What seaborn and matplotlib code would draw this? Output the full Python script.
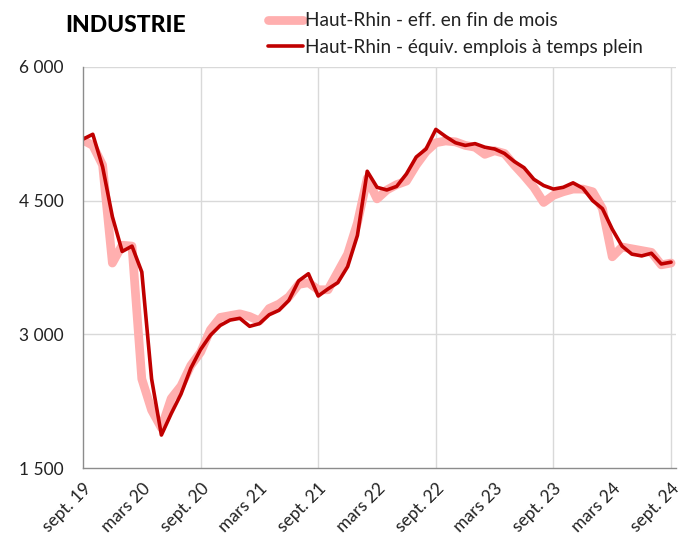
import matplotlib.pyplot as plt
import seaborn as sns
import pandas as pd

# monthly values, sept. 2019 -> sept. 2024 (61 months)
months = pd.period_range("2019-09", "2024-09", freq="M")

eff_fin_mois = [
    5180, 5120, 4900, 3800, 4000, 3990, 2500, 2150, 1950, 2280,
    2420, 2650, 2800, 3050, 3190, 3210, 3230, 3200, 3150, 3290,
    3340, 3420, 3560, 3580, 3500, 3500, 3700, 3900, 4250, 4750,
    4520, 4620, 4680, 4720, 4900, 5050, 5150, 5170, 5160, 5120,
    5100, 5020, 5060, 5030, 4900, 4780, 4650, 4480, 4560, 4600,
    4630, 4630, 4600, 4410, 3870, 3980, 3960, 3940, 3920, 3780,
    3800,
]

equiv_etp = [
    5190, 5245, 4880, 4320, 3930, 3990, 3700, 2500, 1870, 2110,
    2330, 2620, 2830, 2990, 3100, 3160, 3180, 3090, 3120, 3220,
    3270, 3380, 3600, 3680, 3430, 3510, 3580, 3760, 4110, 4830,
    4650, 4620, 4660, 4800, 4990, 5080, 5300, 5220, 5150, 5120,
    5140, 5100, 5080, 5030, 4940, 4870, 4740, 4670, 4630, 4650,
    4700, 4640, 4500, 4410, 4180, 3990, 3900, 3880, 3910, 3790,
    3810,
]

series_labels = ["Haut-Rhin - eff. en fin de mois",
                 "Haut-Rhin - équiv. emplois à temps plein"]
tick_labels = ["sept. 19", "mars 20", "sept. 20", "mars 21", "sept. 21", "mars 22",
               "sept. 22", "mars 23", "sept. 23", "mars 24", "sept. 24"]
y_ticks = [1500, 3000, 4500, 6000]

n = len(months)
df = pd.DataFrame({
    "mois": list(range(n)) * 2,
    "valeur": eff_fin_mois + equiv_etp,
    "serie": [series_labels[0]] * n + [series_labels[1]] * n,
})

sns.set_theme(style="white")
plt.rcParams["font.family"] = ["Lato", "DejaVu Sans"]

fig = plt.figure(figsize=(6.78, 5.39), dpi=100)
ax = fig.add_axes([0.1224, 0.1317, 0.8746, 0.744])

palette = {series_labels[0]: "#ffafaf", series_labels[1]: "#c00000"}
sizes = {series_labels[0]: 6.3, series_labels[1]: 2.6}
sns.lineplot(data=df, x="mois", y="valeur", hue="serie", size="serie",
             palette=palette, sizes=sizes, ax=ax, legend=False,
             solid_capstyle="round", solid_joinstyle="round")

ax.set_xlim(0, 60.5)
ax.set_ylim(1500, 6000)
ax.set_xticks(range(0, 61, 6))
ax.set_xticklabels(tick_labels, rotation=45, ha="right", rotation_mode="anchor",
                   fontsize=12.5, color="#222222")
ax.set_yticks(y_ticks)
ax.set_yticklabels([f"{v:,}".replace(",", " ") for v in y_ticks],
                   fontsize=12.5, color="#222222")
ax.set_xlabel("")
ax.set_ylabel("")

# grid: yearly verticals, horizontals at ticks
for v in y_ticks[1:]:
    ax.axhline(v, color="#d9d9d9", lw=1, zorder=0)
for m in range(12, 61, 12):
    ax.axvline(m, color="#d9d9d9", lw=1, zorder=0)

for s in ["top", "right"]:
    ax.spines[s].set_visible(False)
for s in ["left", "bottom"]:
    ax.spines[s].set_color("#8c8c8c")
    ax.spines[s].set_linewidth(1)
ax.tick_params(axis="both", which="major", direction="out", length=5,
               width=1, color="#8c8c8c")
ax.tick_params(axis="y", pad=9)
ax.tick_params(axis="x", pad=4)

fig.text(0.096, 0.953, "INDUSTRIE", fontsize=16.5, fontweight="black",
         color="black", va="center", ha="left")

handles = [plt.Line2D([], [], color=palette[l], lw=sizes[l], solid_capstyle="round")
           for l in series_labels]
fig.legend(handles, series_labels, loc="upper left", bbox_to_anchor=(0.395, 0.977),
           frameon=False, fontsize=13.7, handlelength=1.85, handletextpad=0.1,
           labelspacing=0.5, borderpad=0, borderaxespad=0, labelcolor="#222222")

fig.savefig("out.png", dpi=100)
